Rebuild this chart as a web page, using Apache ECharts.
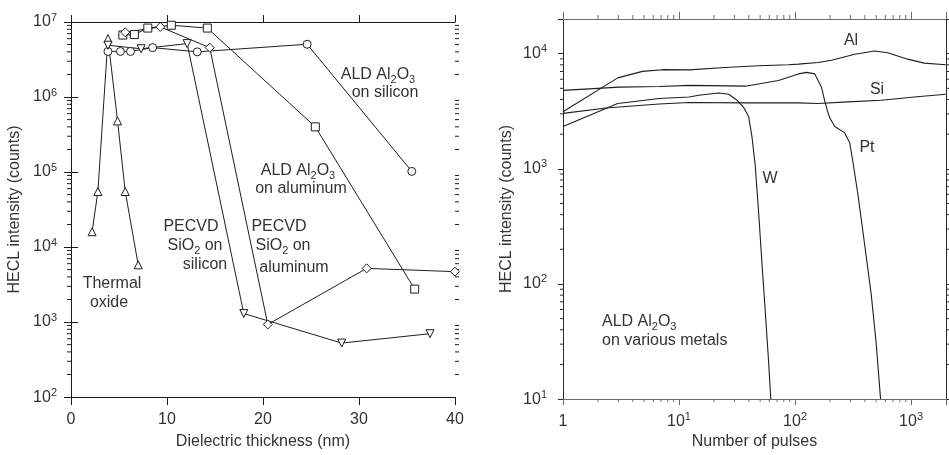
<!DOCTYPE html>
<html>
<head>
<meta charset="utf-8">
<script src="https://cdn.jsdelivr.net/npm/echarts@6/dist/echarts.min.js"></script>
<style>
  html, body { margin: 0; padding: 0; background: #fff; }
  #chart { width: 949px; height: 455px; }
</style>
</head>
<body>
<div id="chart"></div>
<script>
// --- left panel: HECL intensity vs dielectric thickness (nm) ---
const THERMAL_X  = [2.2, 2.8, 3.85, 4.85, 5.65, 7.0];
const THERMAL_Y  = [1.6e4, 5.5e4, 6.0e6, 4.8e5, 5.5e4, 5.8e3];
const ALD_SI_X   = [3.85, 5.15, 6.2, 8.5, 13.15, 24.6, 35.5];
const ALD_SI_Y   = [4.05e6, 4.05e6, 4.05e6, 4.55e6, 4.0e6, 5.05e6, 1.02e5];
const ALD_AL_X   = [5.4, 6.6, 8.0, 10.45, 14.2, 25.45, 35.8];
const ALD_AL_Y   = [6.7e6, 6.8e6, 8.3e6, 9.05e6, 8.3e6, 4.0e5, 2.75e3];
const PECVD_SI_X = [3.85, 7.3, 12.1, 18.0, 28.2, 37.4];
const PECVD_SI_Y = [4.9e6, 4.4e6, 5.15e6, 1.3e3, 525, 700];
const PECVD_AL_X = [5.65, 9.3, 14.45, 20.5, 30.8, 40];
const PECVD_AL_Y = [7.3e6, 8.6e6, 4.55e6, 930, 5.2e3, 4.7e3];

// --- right panel: HECL intensity vs number of pulses ---
const AL_X = [1, 2.96, 4.85, 7.2, 12.2, 25, 48.5, 87.6, 107, 158, 206, 327, 485, 630, 935, 1300, 1990];
const AL_Y = [3130, 6160, 7020, 7260, 7230, 7590, 7850, 8000, 8110, 8380, 8780, 9880, 10540, 10200, 8960, 8280, 8000];
const PT_X = [1, 3.06, 6.74, 12.2, 37.3, 71.9, 107, 126, 148, 169, 181, 193, 200, 220, 268, 296, 316, 349, 398, 453, 500, 546];
const PT_Y = [4800, 5120, 5190, 5300, 5220, 5840, 6670, 6880, 6670, 5120, 3810, 3030, 2750, 2330, 2050, 1680, 1135, 588, 220, 82, 30.7, 10];
const SI_X = [1, 2.35, 6.74, 12.2, 37.3, 107, 158, 286, 552, 1067, 1990];
const SI_Y = [3030, 3370, 3650, 3770, 3740, 3740, 3690, 3810, 3940, 4210, 4440];
const W_X  = [1, 2.96, 6.74, 12.2, 14.8, 22, 26.8, 31.6, 36.1, 39.8, 42.5, 45.4, 48.5, 51.7, 55.3, 59, 61.8];
const W_Y  = [2330, 3690, 4080, 4210, 4350, 4550, 4440, 3940, 3400, 2840, 1910, 1060, 424, 158, 59, 22.1, 10];

// minor tick positions on the log axes (2..9 in each decade)
const MINOR_STEPS = [2, 3, 4, 5, 6, 7, 8, 9];
const decadeMinors = (from, to) => {
  const out = [];
  for (let d = from; d <= to; d++) MINOR_STEPS.forEach((m) => out.push(m * Math.pow(10, d)));
  return out;
};
const LEFT_Y_MINOR  = decadeMinors(2, 6);
const RIGHT_X_MINOR = decadeMinors(0, 2).concat([2000]).filter((v) => v < 2000);
const RIGHT_Y_MINOR = decadeMinors(1, 3);

const FONT = 'Liberation Sans';
const TXT = '#333';
const INK = '#1e1e1e';

const pairs = (xs, ys) => xs.map((x, i) => [x, ys[i]]);

const powLabel = (v) => {
  const e = Math.log10(v);
  const r = Math.round(e);
  if (Math.abs(e - r) > 1e-6) return '';
  return r === 0 ? '{b|1}' : `{b|10}{e|${r}}`;
};
const SUP_RICH = {
  b: { fontSize: 16, lineHeight: 20, fontFamily: FONT, color: TXT },
  e: { fontSize: 11, lineHeight: 11, fontFamily: FONT, color: TXT, verticalAlign: 'top' },
};

function axisBase(color) {
  return {
    axisLine: { show: true, lineStyle: { color, width: 1 } },
    splitLine: { show: false },
    axisTick: { show: true, inside: false, length: 7, lineStyle: { color } },
    axisLabel: { show: false },
  };
}

// minor ticks drawn through the axis scales
function minorTicks(xi, yi, side, values, len, color, edge) {
  const vertical = side === 'left' || side === 'right';
  return {
    type: 'custom', xAxisIndex: xi, yAxisIndex: yi, silent: true, clip: false, z: 1,
    data: values.map((v) => (vertical ? [edge, v] : [v, edge])),
    renderItem(params, api) {
      const cs = params.coordSys;
      const p = api.coord([api.value(0), api.value(1)]);
      let x1, y1, x2, y2;
      if (side === 'left')   { x1 = cs.x; x2 = cs.x - len; y1 = y2 = p[1]; }
      if (side === 'right')  { x1 = cs.x + cs.width; x2 = x1 + len; y1 = y2 = p[1]; }
      if (side === 'top')    { y1 = cs.y; y2 = cs.y - len; x1 = x2 = p[0]; }
      if (side === 'bottom') { y1 = cs.y + cs.height; y2 = y1 + len; x1 = x2 = p[0]; }
      return { type: 'line', shape: { x1, y1, x2, y2 }, style: { stroke: color, lineWidth: 1 } };
    },
  };
}

function markerLine(name, xs, ys, symbol, size, rotate) {
  return {
    name, type: 'line', xAxisIndex: 0, yAxisIndex: 0,
    data: pairs(xs, ys),
    symbol, symbolSize: size, symbolRotate: rotate || 0,
    showSymbol: true, clip: false,
    lineStyle: { color: INK, width: 1 },
    itemStyle: { color: '#fff', borderColor: INK, borderWidth: 1 },
    z: 3,
  };
}

function traceLine(name, xs, ys) {
  return {
    name, type: 'line', xAxisIndex: 2, yAxisIndex: 2,
    data: pairs(xs, ys),
    showSymbol: false,
    lineStyle: { color: INK, width: 1.1 },
    z: 3,
  };
}

// in-plot annotations (rich text for sub-scripts)
const LABEL_RICH = {
  a: { fontSize: 16, lineHeight: 20, fontFamily: FONT, color: TXT, fill: TXT },
  s: { fontSize: 11, lineHeight: 11, fontFamily: FONT, color: TXT, fill: TXT, verticalAlign: 'bottom' },
};
const ANNOT = [
  ['{a|ALD Al}{s|2}{a|O}{s|3}', 378, 75, 'center'],
  ['{a|on silicon}', 385, 93, 'center'],
  ['{a|ALD Al}{s|2}{a|O}{s|3}', 298, 171, 'center'],
  ['{a|on aluminum}', 301, 189, 'center'],
  ['{a|Thermal}', 112, 284, 'center'],
  ['{a|oxide}', 109, 303, 'center'],
  ['{a|PECVD}', 191, 227, 'center'],
  ['{a|SiO}{s|2}{a| on}', 195, 246, 'center'],
  ['{a|silicon}', 205, 265, 'center'],
  ['{a|PECVD}', 279, 227, 'center'],
  ['{a|SiO}{s|2}{a| on}', 283, 246, 'center'],
  ['{a|aluminum}', 294, 268, 'center'],
  ['{a|Al}', 851, 41, 'center'],
  ['{a|Si}', 877, 90, 'center'],
  ['{a|Pt}', 867, 148, 'center'],
  ['{a|W}', 770, 179, 'center'],
  ['{a|ALD Al}{s|2}{a|O}{s|3}', 602, 322, 'left'],
  ['{a|on various metals}', 602, 341, 'left'],
];

const chart = echarts.init(document.getElementById('chart'));

const LEFT_AX = '#1a1a1a';
const RIGHT_X_AX = '#6a6a6a';
const RIGHT_Y_AX = '#2a2a2a';

chart.setOption({
  animation: false,
  backgroundColor: '#fff',
  textStyle: { fontFamily: FONT },
  grid: [
    { left: 71, top: 22, right: 494, bottom: 51 },
    { left: 563, top: 19, right: 1, bottom: 51 },
  ],
  xAxis: [
    Object.assign(axisBase(LEFT_AX), {
      type: 'value', gridIndex: 0, position: 'bottom', min: 0, max: 40, interval: 10,
      axisTick: { show: true, inside: false, length: 8, lineStyle: { color: LEFT_AX } },
      axisLabel: { show: true, margin: 12, fontSize: 16, lineHeight: 20, color: TXT, fontFamily: FONT },
      name: 'Dielectric thickness (nm)', nameLocation: 'middle', nameGap: 26,
      nameTextStyle: { fontSize: 16, color: TXT, fontFamily: FONT },
    }),
    Object.assign(axisBase(LEFT_AX), {
      type: 'value', gridIndex: 0, position: 'top', min: 0, max: 40, interval: 10,
    }),
    Object.assign(axisBase(RIGHT_X_AX), {
      type: 'log', gridIndex: 1, position: 'bottom', min: 1, max: 2000, logBase: 10,
      axisTick: { show: true, inside: false, length: 6, lineStyle: { color: RIGHT_X_AX } },
      axisLabel: { show: true, margin: 12, formatter: powLabel, rich: SUP_RICH },
      name: 'Number of pulses', nameLocation: 'middle', nameGap: 26,
      nameTextStyle: { fontSize: 16, color: TXT, fontFamily: FONT },
    }),
    Object.assign(axisBase(RIGHT_X_AX), {
      type: 'log', gridIndex: 1, position: 'top', min: 1, max: 2000, logBase: 10,
    }),
  ],
  yAxis: [
    Object.assign(axisBase(LEFT_AX), {
      type: 'log', gridIndex: 0, position: 'left', min: 100, max: 1e7, logBase: 10,
      axisLabel: { show: true, margin: 14, formatter: powLabel, rich: SUP_RICH },
      name: 'HECL intensity (counts)', nameLocation: 'middle', nameGap: 48,
      nameTextStyle: { fontSize: 16, color: TXT, fontFamily: FONT },
    }),
    Object.assign(axisBase(LEFT_AX), {
      type: 'log', gridIndex: 0, position: 'right', min: 100, max: 1e7, logBase: 10,
    }),
    Object.assign(axisBase(RIGHT_Y_AX), {
      type: 'log', gridIndex: 1, position: 'left', min: 10, max: 20000, logBase: 10,
      axisTick: { show: true, inside: false, length: 5, lineStyle: { color: RIGHT_Y_AX } },
      axisLabel: { show: true, margin: 16, formatter: powLabel, rich: SUP_RICH },
      name: 'HECL intensity (counts)', nameLocation: 'middle', nameGap: 48,
      nameTextStyle: { fontSize: 16, color: TXT, fontFamily: FONT },
    }),
    Object.assign(axisBase(RIGHT_Y_AX), {
      type: 'log', gridIndex: 1, position: 'right', min: 10, max: 20000, logBase: 10,
    }),
  ],
  series: [
    minorTicks(0, 0, 'left', LEFT_Y_MINOR, 4, LEFT_AX, 20),
    minorTicks(0, 0, 'right', LEFT_Y_MINOR, 4, LEFT_AX, 20),
    minorTicks(2, 2, 'left', RIGHT_Y_MINOR, 3, RIGHT_Y_AX, 10),
    minorTicks(2, 2, 'right', RIGHT_Y_MINOR, 3, RIGHT_Y_AX, 10),
    minorTicks(2, 2, 'top', RIGHT_X_MINOR, 4, RIGHT_X_AX, 100),
    minorTicks(2, 2, 'bottom', RIGHT_X_MINOR, 3, RIGHT_X_AX, 100),

    markerLine('Thermal oxide', THERMAL_X, THERMAL_Y, 'triangle', 8),
    markerLine('ALD Al2O3 on silicon', ALD_SI_X, ALD_SI_Y, 'circle', 8),
    markerLine('ALD Al2O3 on aluminum', ALD_AL_X, ALD_AL_Y, 'rect', 8),
    markerLine('PECVD SiO2 on silicon', PECVD_SI_X, PECVD_SI_Y, 'triangle', 8, 180),
    markerLine('PECVD SiO2 on aluminum', PECVD_AL_X, PECVD_AL_Y, 'diamond', 9),

    traceLine('Al', AL_X, AL_Y),
    traceLine('Pt', PT_X, PT_Y),
    traceLine('Si', SI_X, SI_Y),
    traceLine('W', W_X, W_Y),
  ],
  graphic: ANNOT.map(([text, x, y, align]) => ({
    type: 'text', x, y, silent: true, z: 10,
    style: {
      text, rich: LABEL_RICH, fill: TXT,
      font: `16px "${FONT}"`,
      align, verticalAlign: 'middle',
      textAlign: align, textVerticalAlign: 'middle',
    },
  })),
});
</script>
</body>
</html>
